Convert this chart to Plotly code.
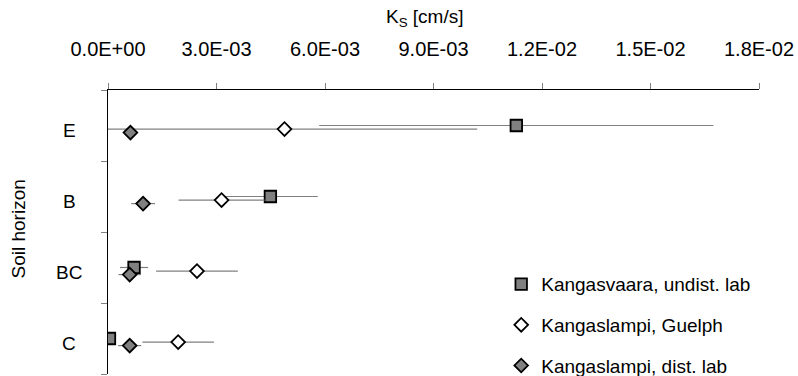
import plotly.graph_objects as go

# ---- data (K_S in cm/s) ----
horizons = ["E", "B", "BC", "C"]

undist_ks = [11.29e-3, 4.49e-3, 0.72e-3, 0.04e-3]
undist_err = [5.45e-3, 1.31e-3, 0.39e-3, 0.0]

guelph_ks = [4.88e-3, 3.14e-3, 2.46e-3, 1.94e-3]
guelph_err = [5.33e-3, 1.19e-3, 1.13e-3, 0.99e-3]

dist_ks = [0.62e-3, 0.97e-3, 0.60e-3, 0.60e-3]
dist_err = [0.0, 0.33e-3, 0.31e-3, 0.32e-3]

series_names = ["Kangasvaara, undist. lab", "Kangaslampi, Guelph", "Kangaslampi, dist. lab"]

x_tickvals = [0, 0.003, 0.006, 0.009, 0.012, 0.015, 0.018]
x_ticktext = ["0.0E+00", "3.0E-03", "6.0E-03", "9.0E-03", "1.2E-02", "1.5E-02", "1.8E-02"]

# ---- layout helpers ----
n = len(horizons)
centers = [n - i - 0.5 for i in range(n)]  # E at top
FONT = "Liberation Sans, Arial, sans-serif"
FS = 19
GREY = "#808080"

fig = go.Figure()

def add_series(name, xs, errs, offset, symbol, fill, size, group):
    fig.add_trace(go.Scatter(
        x=xs, y=[c + offset for c in centers], mode="markers", name=name,
        legendgroup=group,
        marker=dict(symbol=symbol, size=size, color=fill,
                    line=dict(color="black", width=1.8)),
        error_x=dict(type="data", array=errs, color=GREY, thickness=1.2, width=0),
    ))

add_series(series_names[0], undist_ks, undist_err, 0.0, "square", GREY, 11.5, "a")
add_series(series_names[1], guelph_ks, guelph_err, -0.05, "diamond", "white", 10.5, "b")
add_series(series_names[2], dist_ks, dist_err, -0.10, "diamond", GREY, 10.5, "c")

fig.update_layout(
    width=798, height=376,
    margin=dict(l=108, r=39, t=90, b=2, autoexpand=False),
    paper_bgcolor="white", plot_bgcolor="white",
    font=dict(family=FONT, size=FS, color="black"),
    showlegend=True,
    legend=dict(x=0.604, y=0.383, xanchor="left", yanchor="top",
                bgcolor="rgba(0,0,0,0)", font=dict(family=FONT, size=FS, color="black"),
                traceorder="grouped", tracegroupgap=13, itemwidth=30),
    xaxis=dict(side="top", range=[0, 0.018], tickvals=x_tickvals, ticktext=x_ticktext,
               tickfont=dict(family=FONT, size=20, color="black"),
               ticklabeloverflow="allow",
               showline=True, linecolor="black", linewidth=1, mirror=False,
               ticks="outside", ticklen=6, tickcolor=GREY, tickwidth=1,
               showgrid=False, zeroline=False, ticklabelstandoff=19, automargin=False),
    yaxis=dict(range=[0, n], tickvals=list(range(n + 1)), showticklabels=False,
               showline=True, linecolor="black", linewidth=1,
               ticks="outside", ticklen=6, tickcolor=GREY, tickwidth=1,
               showgrid=False, zeroline=False, automargin=False),
)

# axis titles
fig.add_annotation(text="K<sub>S</sub> [cm/s]", xref="paper", yref="paper",
                   x=0.5, y=1, xanchor="center", yanchor="middle",
                   xshift=-9, yshift=72, showarrow=False, font=dict(size=FS))
fig.add_annotation(text="Soil horizon", xref="paper", yref="paper",
                   x=0, y=0.5, xanchor="center", yanchor="middle", textangle=-90,
                   xshift=-90.5, yshift=3, showarrow=False, font=dict(size=FS))

# category labels
for h, c in zip(horizons, centers):
    fig.add_annotation(text=h, xref="paper", yref="y", x=0, y=c,
                       xanchor="center", yanchor="middle", xshift=-39, yshift=-5,
                       showarrow=False, font=dict(size=FS))

fig.write_html("out.html")
